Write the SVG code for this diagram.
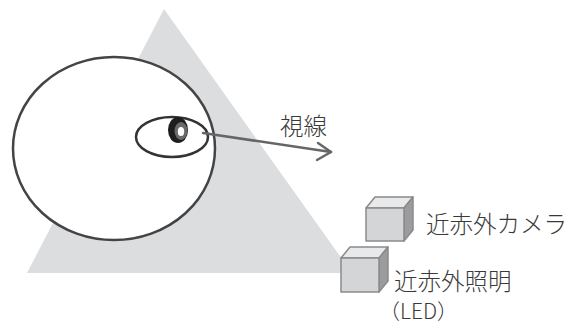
<svg xmlns="http://www.w3.org/2000/svg" width="576" height="326" viewBox="0 0 576 326">
  <style>
    .label { font-family: "Noto Sans CJK JP", "Noto Sans", sans-serif; font-size: 23.5px; font-weight: 300; fill: #3a3a3a; }
    .small { font-size: 21px; }
    .front { fill: #d4d5d7; stroke: #8a8a8a; stroke-width: 1.5; stroke-linejoin: round; }
    .top { fill: #e8e9ea; stroke: #8a8a8a; stroke-width: 1.5; stroke-linejoin: round; }
    .side { fill: #9c9c9e; stroke: #8a8a8a; stroke-width: 1.5; stroke-linejoin: round; }
  </style>

  <!-- field of view cone -->
  <polygon id="view-field" points="164,9 27,273 352,273" fill="#dcdddf"/>

  <!-- head -->
  <g id="head">
    <ellipse cx="114" cy="148.5" rx="101" ry="91.5" fill="#ffffff" stroke="#444444" stroke-width="2.5"/>
  </g>

  <!-- eye -->
  <g id="eye">
    <ellipse cx="172" cy="137" rx="36" ry="20" fill="#ffffff" stroke="#333333" stroke-width="2.5"/>
    <ellipse cx="178" cy="130" rx="10" ry="13" fill="#1e1e1e"/>
    <ellipse cx="181" cy="131" rx="6.5" ry="9" fill="#6a6a6a"/>
    <ellipse cx="181" cy="131.5" rx="3.2" ry="4.5" fill="#ffffff"/>
  </g>

  <!-- gaze direction -->
  <g id="connectors" fill="none" stroke="#666666" stroke-width="2.5" stroke-linecap="round" stroke-linejoin="round">
    <line x1="203" y1="133" x2="331" y2="152"/>
    <polyline points="318,143 331,152 317,160"/>
  </g>
  <text class="label" x="280" y="135">視線</text>

  <!-- near-infrared camera -->
  <g id="camera">
    <polygon class="top" points="366,208 375,197 413,197 404,208"/>
    <polygon class="side" points="404,208 413,197 413,230 404,241"/>
    <rect class="front" x="366" y="208" width="38" height="33"/>
    <text class="label" x="426" y="233">近赤外カメラ</text>
  </g>

  <!-- near-infrared illumination (LED) -->
  <g id="led">
    <polygon class="top" points="341,258 350,247 388,247 379,258"/>
    <polygon class="side" points="379,258 388,247 388,281 379,292"/>
    <rect class="front" x="341" y="258" width="38" height="34"/>
    <text class="label" x="394" y="290">近赤外照明</text>
    <text class="label small" x="379" y="319">（LED）</text>
  </g>
</svg>
